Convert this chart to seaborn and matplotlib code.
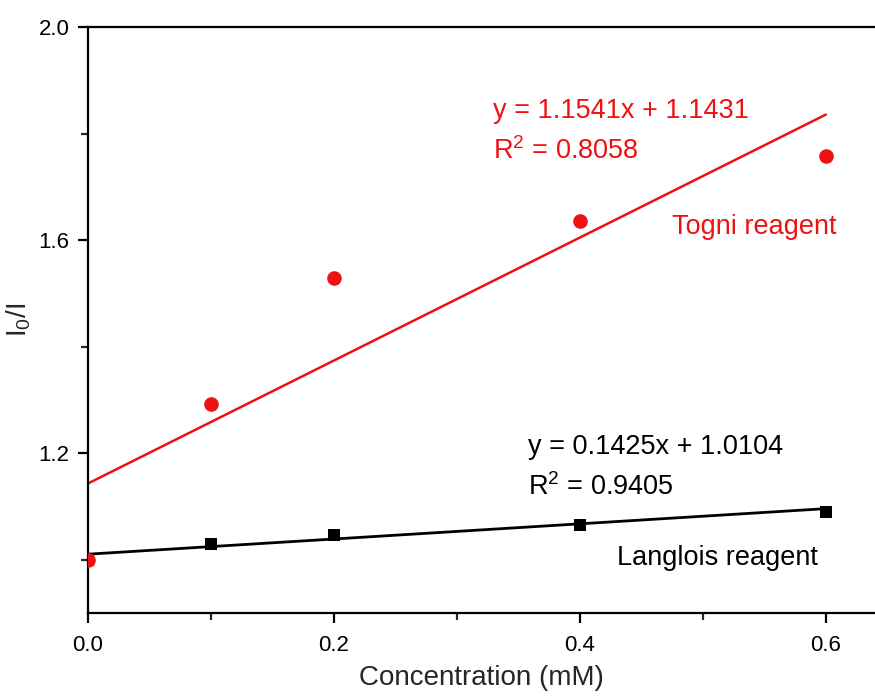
import matplotlib
matplotlib.use("Agg")
import matplotlib.pyplot as plt
import seaborn as sns
import numpy as np
import pandas as pd
from matplotlib.ticker import MultipleLocator, FormatStrFormatter

# ---- data ----
conc = [0.0, 0.1, 0.2, 0.4, 0.6]
togni = [1.0, 1.292, 1.528, 1.636, 1.758]
langlois = [1.0, 1.029, 1.047, 1.066, 1.089]

togni_slope, togni_intercept = 1.1541, 1.1431
langlois_slope, langlois_intercept = 0.1425, 1.0104
fit_range = [0.0, 0.6]

togni_eq = "y = 1.1541x + 1.1431"
togni_r2 = r"R$^\mathregular{2}$ = 0.8058"
langlois_eq = "y = 0.1425x + 1.0104"
langlois_r2 = r"R$^\mathregular{2}$ = 0.9405"

sns.set_style("ticks")
plt.rcParams['font.family'] = ['Liberation Sans', 'DejaVu Sans']
plt.rcParams['mathtext.fontset'] = 'custom'
plt.rcParams['mathtext.rm'] = 'Liberation Sans'
plt.rcParams['mathtext.it'] = 'Liberation Sans'
plt.rcParams['xtick.labelsize'] = 16
plt.rcParams['ytick.labelsize'] = 16

fig = plt.figure(figsize=(8.75, 7), dpi=100)
ax = fig.add_axes([88/875, 1-613/700, 1-88/875, (613-27)/700])

df_l = pd.DataFrame({"x": conc, "y": langlois})
df_t = pd.DataFrame({"x": conc, "y": togni})

fx = np.array(fit_range)
df_fl = pd.DataFrame({"x": fx, "y": langlois_slope*fx + langlois_intercept})
df_ft = pd.DataFrame({"x": fx, "y": togni_slope*fx + togni_intercept})

red = "#ee1111"
sns.lineplot(data=df_fl, x="x", y="y", ax=ax, color="black", lw=2.0, zorder=2)
sns.lineplot(data=df_ft, x="x", y="y", ax=ax, color=red, lw=1.8, zorder=2)
sns.scatterplot(data=df_l, x="x", y="y", ax=ax, marker="s", s=85, color="black",
                edgecolor="black", linewidth=0, zorder=3)
sns.scatterplot(data=df_t, x="x", y="y", ax=ax, marker="o", s=110, color=red,
                edgecolor=red, linewidth=0, zorder=4)

ax.set_xlim(0, 0.64)
ax.set_ylim(0.9, 2.0)
ax.xaxis.set_major_locator(MultipleLocator(0.2))
ax.xaxis.set_minor_locator(MultipleLocator(0.1))
ax.xaxis.set_major_formatter(FormatStrFormatter("%.1f"))
ax.set_yticks([1.2, 1.6, 2.0])
ax.set_yticks([1.0, 1.4, 1.8], minor=True)
ax.yaxis.set_major_formatter(FormatStrFormatter("%.1f"))

for s in ["left", "bottom", "top"]:
    ax.spines[s].set_linewidth(1.6)
    ax.spines[s].set_color("black")
ax.spines["right"].set_visible(False)

ax.tick_params(which="major", direction="out", length=7.5, width=1.6,
               colors="black", pad=6)
ax.tick_params(which="minor", direction="out", length=5, width=1.6)
ax.tick_params(axis="x", which="major", pad=8)
ax.tick_params(which="both", labelsize=16)

ax.set_xlabel("Concentration (mM)", fontsize=20, labelpad=7)
ax.set_ylabel(r"I$_\mathregular{0}$/I", fontsize=20, va="center")
ax.yaxis.set_label_coords(-0.088, 0.5)

ax.text(0.329, 1.829, togni_eq, fontsize=19.5, color=red, va="baseline")
ax.text(0.329, 1.7515, togni_r2, fontsize=19.5, color=red, va="baseline")
ax.text(0.475, 1.612, "Togni reagent", fontsize=19.5, color=red, va="baseline")
ax.text(0.358, 1.198, langlois_eq, fontsize=19.5, color="black", va="baseline")
ax.text(0.358, 1.121, langlois_r2, fontsize=19.5, color="black", va="baseline")
ax.text(0.430, 0.991, "Langlois reagent", fontsize=19.5, color="black", va="baseline")

fig.canvas.draw()
for lab in ax.get_xticklabels() + ax.get_yticklabels():
    lab.set_fontsize(16)

fig.savefig("out.png", dpi=100)
